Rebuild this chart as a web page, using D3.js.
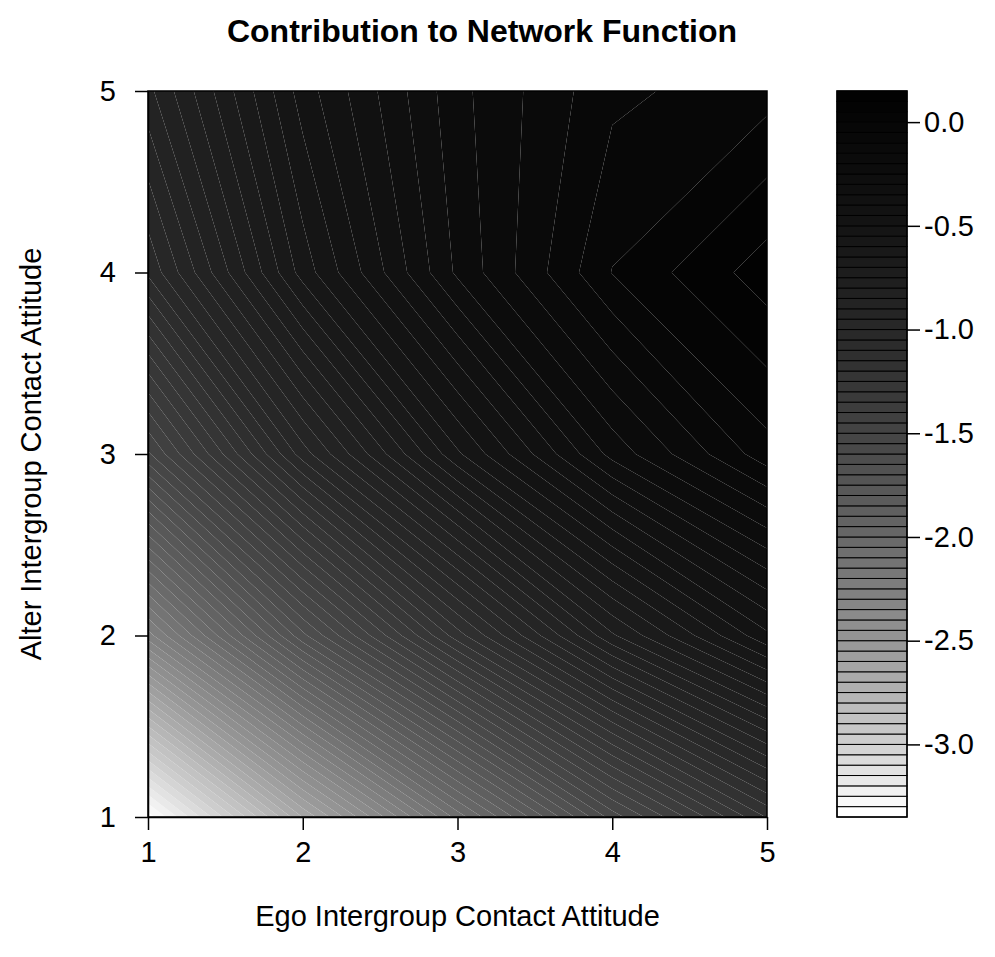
<!DOCTYPE html>
<html>
<head>
<meta charset="utf-8">
<title>Contribution to Network Function</title>
<script src="https://cdnjs.cloudflare.com/ajax/libs/d3/7.8.5/d3.min.js"></script>
<style>
body { margin: 0; background: #fff; font-family: 'Liberation Sans', Arial, Helvetica, sans-serif; }
</style>
</head>
<body>
<div id="chart"></div>
<script>
// grid of the filled contour: ego on x, alter on y
var egoValues = [1, 2, 3, 4, 5];
var alterValues = [1, 2, 3, 4, 5];
// contribution[alter index][ego index]
var contribution = [
  [-3.329, -2.648, -2.079, -1.578, -1.196],
  [-2.272, -1.664, -1.172, -0.758, -0.461],
  [-1.509, -0.974, -0.559, -0.232, -0.020],
  [-1.040, -0.578, -0.240,  0.002,  0.127],
  [-0.865, -0.476, -0.215, -0.062, -0.020]
];
var keyTicks = [0, -0.5, -1, -1.5, -2, -2.5, -3];
var keyTickLabels = ["0.0", "-0.5", "-1.0", "-1.5", "-2.0", "-2.5", "-3.0"];
var levelMin = -3.35, levelMax = 0.15, levelStep = 0.05;

var W = 995, H = 957;
var svg = d3.select("#chart").append("svg")
  .attr("width", W).attr("height", H);

var x = d3.scaleLinear().domain([1, 5]).range([148, 767]);
var y = d3.scaleLinear().domain([1, 5]).range([817, 91]);

var nLev = Math.round((levelMax - levelMin) / levelStep);
var levels = d3.range(nLev + 1).map(function(i) { return +(levelMin + i * levelStep).toFixed(2); });

// grey ramp, white at the bottom level, black at the top
var grey = d3.scaleLinear()
  .domain([-3.325, -3.0, -2.5, -2.0, -1.5, -1.0, -0.5, 0.0, 0.15])
  .range([255, 208, 150, 104, 68, 40, 20, 6, 1])
  .clamp(true);
function bandColor(i) {
  var g = Math.round(grey((levels[i] + levels[i + 1]) / 2));
  return d3.rgb(g, g, g).formatHex();
}

// band polygons per cell, like R's filled.contour
var bands = levels.slice(0, -1).map(function() { return []; });
for (var j = 0; j < alterValues.length - 1; j++) {
  for (var i = 0; i < egoValues.length - 1; i++) {
    var c = [
      [egoValues[i], alterValues[j], contribution[j][i]],
      [egoValues[i + 1], alterValues[j], contribution[j][i + 1]],
      [egoValues[i + 1], alterValues[j + 1], contribution[j + 1][i + 1]],
      [egoValues[i], alterValues[j + 1], contribution[j + 1][i]]
    ];
    for (var b = 0; b < nLev; b++) {
      var lo = levels[b], hi = levels[b + 1];
      var pts = [];
      for (var k = 0; k < 4; k++) {
        var a = c[k], e = c[(k + 1) % 4];
        if (a[2] >= lo && a[2] <= hi) pts.push([a[0], a[1]]);
        var cross = [];
        [lo, hi].forEach(function(L) {
          if ((a[2] - L) * (e[2] - L) < 0) {
            var t = (L - a[2]) / (e[2] - a[2]);
            cross.push([t, a[0] + t * (e[0] - a[0]), a[1] + t * (e[1] - a[1])]);
          }
        });
        cross.sort(function(p, q) { return p[0] - q[0]; });
        cross.forEach(function(p) { pts.push([p[1], p[2]]); });
      }
      if (pts.length >= 3) bands[b].push(pts);
    }
  }
}

var line = d3.line()
  .x(function(d) { return x(d[0]); })
  .y(function(d) { return y(d[1]); });

svg.append("g").selectAll("path")
  .data(bands)
  .enter().append("path")
    .attr("d", function(polys) { return polys.map(function(p) { return line(p) + "Z"; }).join(""); })
    .attr("fill", function(d, i) { return bandColor(i); })
    .attr("stroke", "none");

// plot box
svg.append("rect")
  .attr("x", x(1)).attr("y", y(5))
  .attr("width", x(5) - x(1)).attr("height", y(1) - y(5))
  .attr("fill", "none").attr("stroke", "#000").attr("stroke-width", 1.5);

var fontSize = 29;

var xAxis = svg.append("g")
  .attr("transform", "translate(0," + y(1) + ")")
  .call(d3.axisBottom(x).tickValues(egoValues).tickFormat(d3.format("d"))
    .tickSize(13).tickSizeOuter(0).tickPadding(11));

var yAxis = svg.append("g")
  .attr("transform", "translate(" + x(1) + ",0)")
  .call(d3.axisLeft(y).tickValues(alterValues).tickFormat(d3.format("d"))
    .tickSize(13).tickSizeOuter(0).tickPadding(19));

// colour key
var keyX = 837, keyW = 70;
var kz = d3.scaleLinear().domain([levelMin, levelMax]).range([817, 91]);

svg.append("g").selectAll("rect")
  .data(levels.slice(0, -1))
  .enter().append("rect")
    .attr("x", keyX)
    .attr("y", function(d, i) { return kz(levels[i + 1]); })
    .attr("width", keyW)
    .attr("height", function(d, i) { return kz(levels[i]) - kz(levels[i + 1]); })
    .attr("fill", function(d, i) { return bandColor(i); })
    .attr("stroke", "#000").attr("stroke-width", 1);

svg.append("rect")
  .attr("x", keyX).attr("y", kz(levelMax))
  .attr("width", keyW).attr("height", kz(levelMin) - kz(levelMax))
  .attr("fill", "none").attr("stroke", "#000").attr("stroke-width", 1.5);

var keyAxis = svg.append("g")
  .attr("transform", "translate(" + (keyX + keyW) + ",0)")
  .call(d3.axisRight(kz).tickValues(keyTicks)
    .tickFormat(function(d, i) { return keyTickLabels[i]; })
    .tickSize(13).tickSizeOuter(0).tickPadding(4));
keyAxis.select(".domain").remove();

[xAxis, yAxis, keyAxis].forEach(function(g) {
  g.select(".domain").attr("stroke", "#000").attr("stroke-width", 1.5);
  g.selectAll(".tick line").attr("stroke", "#000").attr("stroke-width", 1.5);
  g.selectAll(".tick text")
    .attr("fill", "#000")
    .style("font-family", "'Liberation Sans', Arial, sans-serif")
    .style("font-size", fontSize + "px");
});

// titles
svg.append("text")
  .attr("x", 482).attr("y", 42)
  .attr("text-anchor", "middle")
  .style("font-size", "32px").style("font-weight", "bold")
  .text("Contribution to Network Function");

svg.append("text")
  .attr("x", (x(1) + x(5)) / 2).attr("y", 926)
  .attr("text-anchor", "middle")
  .style("font-size", fontSize + "px")
  .text("Ego Intergroup Contact Attitude");

svg.append("text")
  .attr("text-anchor", "middle")
  .attr("transform", "translate(41," + (y(1) + y(5)) / 2 + ")rotate(-90)")
  .style("font-size", fontSize + "px")
  .text("Alter Intergroup Contact Attitude");
</script>
</body>
</html>
